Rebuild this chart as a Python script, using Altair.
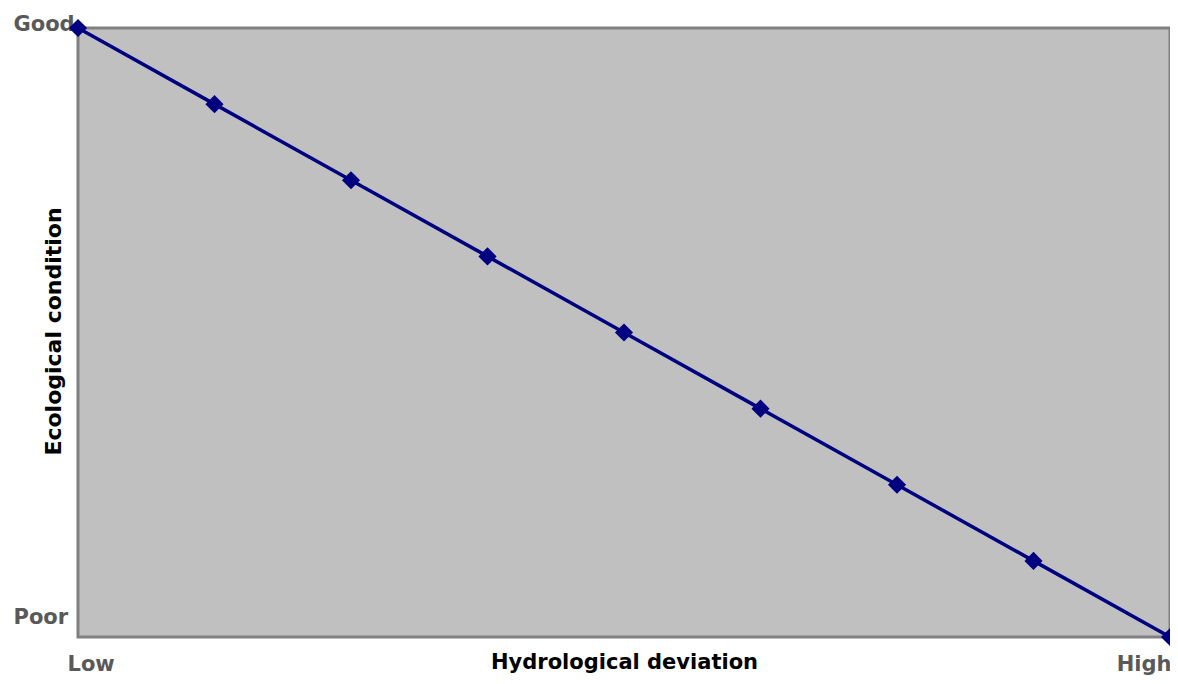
import altair as alt
import pandas as pd

x_vals = [0, 1, 2, 3, 4, 5, 6, 7, 8]
y_vals = [8, 7, 6, 5, 4, 3, 2, 1, 0]
y_labels = {8: "Good", 0: "Poor"}
x_labels = {0: "Low", 8: "High"}

df = pd.DataFrame({"x": x_vals, "y": y_vals})

label_font = "DejaVu Sans"
title_font = "DejaVu Sans"

x_axis = alt.Axis(
    values=[0, 8],
    labelExpr="datum.value == 0 ? 'Low' : 'High'",
    grid=False, ticks=False, tickSize=0, domain=False,
    labelFont=label_font, labelFontSize=21, labelFontWeight="bold",
    labelColor="#595959",
    labelAlign={"condition": {"test": "datum.value == 0", "value": "left"}, "value": "right"},
    labelOffset={"condition": {"test": "datum.value == 0", "value": -11}, "value": 1},
    labelBaseline="middle", labelPadding=27, labelFlush=False, labelOverlap=False,
    title="Hydrological deviation",
    titleFont=title_font, titleFontSize=21, titleFontWeight="bold", titleColor="#000000",
    titleY=25, titleBaseline="middle",
)

y_axis = alt.Axis(
    values=[0, 8],
    labelExpr="datum.value == 8 ? 'Good' : 'Poor'",
    grid=False, ticks=False, tickSize=0, domain=False,
    labelFont=label_font, labelFontSize=21, labelFontWeight="bold",
    labelColor="#595959",
    labelAlign="left", labelPadding=65,
    labelBaseline="middle",
    labelOffset={"condition": {"test": "datum.value == 8", "value": -4}, "value": -20},
    labelFlush=False, labelOverlap=False,
    title="Ecological condition",
    titleFont=title_font, titleFontSize=22, titleFontWeight="bold", titleColor="#000000",
    titleAngle=270, titleX=-25, titleY=303, titleAlign="center", titleBaseline="middle",
)

base = alt.Chart(df).encode(
    x=alt.X("x:Q", scale=alt.Scale(domain=[0, 8], nice=False, zero=False), axis=x_axis),
    y=alt.Y("y:Q", scale=alt.Scale(domain=[0, 8], nice=False, zero=False), axis=y_axis),
)

line = base.mark_line(color="#000080", strokeWidth=3.5, clip=False)
points = base.mark_point(shape="diamond", filled=True, color="#000080", size=330, opacity=1, clip=False)

chart = (line + points).properties(
    width=1092, height=609,
    autosize=alt.AutoSizeParams(type="none"),
    padding={"left": 70, "top": 20, "right": 0, "bottom": 39},
).configure(
    background="#FFFFFF",
    view=alt.ViewConfig(fill="#C0C0C0", stroke="#808080", strokeWidth=3),
)

chart.save("out.html", embed_options={"renderer": "svg", "actions": False})
